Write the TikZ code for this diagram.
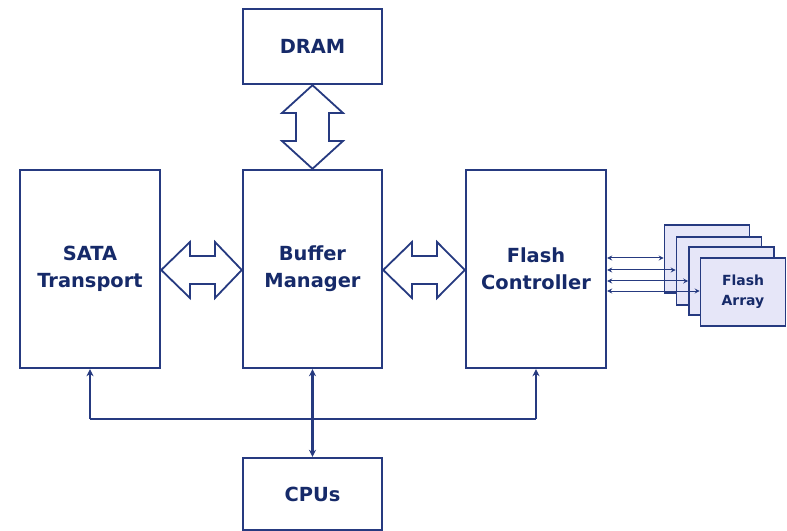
\documentclass[tikz,border=0pt]{standalone}
\usepackage{fontspec}
\setmainfont{DejaVu Sans}
\usetikzlibrary{arrows.meta,calc}
\definecolor{ln}{RGB}{38,58,128}
\definecolor{tx}{RGB}{22,42,105}
\definecolor{lav}{RGB}{230,230,248}
\begin{document}
\begin{tikzpicture}[x=1bp,y=-1bp,
  blk/.style={draw=ln,line width=2.4bp,fill=white,inner sep=0pt,align=center,
    text=tx,font=\fontsize{19.5}{27}\selectfont\bfseries},
  arr/.style={draw=ln,line width=1.8bp,fill=white,line join=miter},
  bus/.style={draw=ln,line width=2.2bp,{Stealth[length=7bp,width=7bp]}-{Stealth[length=7bp,width=7bp]}},
  busone/.style={draw=ln,line width=2.2bp,-{Stealth[length=7bp,width=7bp]}},
  fab/.style={draw=ln,line width=1.6bp,fill=lav,minimum width=85bp,minimum height=68bp,
    inner sep=0pt,align=center,text=tx,font=\fontsize{14}{20}\selectfont\bfseries},
  fal/.style={draw=ln,line width=1bp,{Stealth[length=5bp,width=5bp]}-{Stealth[length=5bp,width=5bp]}}]
\path[use as bounding box,fill=white] (0,0) rectangle (787,531);
% main blocks
\node[blk,minimum width=139bp,minimum height=75bp] (dram) at (312.5,46.5) {DRAM};
\node[blk,minimum width=140bp,minimum height=198bp] (sata) at (90,269) {SATA\\Transport};
\node[blk,minimum width=139bp,minimum height=198bp] (buf) at (312.5,269) {Buffer\\Manager};
\node[blk,minimum width=140bp,minimum height=198bp] (fc) at (536,269) {Flash\\Controller};
\node[blk,minimum width=139bp,minimum height=72bp] (cpu) at (312.5,494) {CPUs};
% double block arrows
\draw[arr] (sata.east |- 0,270) -- (190,242) -- (190,256) -- (215,256) -- (215,242)
  -- (buf.west |- 0,270) -- (215,298) -- (215,284) -- (190,284) -- (190,298) -- cycle;
\draw[arr] (buf.east |- 0,270) -- (412,242) -- (412,256) -- (437,256) -- (437,242)
  -- (fc.west |- 0,270) -- (437,298) -- (437,284) -- (412,284) -- (412,298) -- cycle;
\draw[arr] (dram.south) -- (343,113) -- (329,113) -- (329,141) -- (343,141)
  -- (buf.north) -- (282,141) -- (296,141) -- (296,113) -- (282,113) -- cycle;
% bus
\coordinate (busL) at (90,419);
\coordinate (busR) at (536,419);
\draw[draw=ln,line width=2.2bp] (busL) -- (busR);
\draw[busone] (busL) -- (sata.south);
\draw[busone] (busR) -- (fc.south);
\draw[bus] (cpu.north) -- (buf.south);
% flash arrays
\node[fab] (fa1) at (707,259) {};
\node[fab] (fa2) at (719,271) {};
\node[fab] (fa3) at (731.5,281) {};
\node[fab] (fa4) at (743,292) {Flash\\Array};
\coordinate (l1) at (0,258);
\coordinate (l2) at (0,270);
\coordinate (l3) at (0,281);
\coordinate (l4) at (0,291);
\draw[fal] (fc.east |- l1) -- (fa1.west |- l1);
\draw[fal] (fc.east |- l2) -- (fa2.west |- l2);
\draw[fal] (fc.east |- l3) -- (fa3.west |- l3);
\draw[fal] (fc.east |- l4) -- (fa4.west |- l4);
\end{tikzpicture}
\end{document}
